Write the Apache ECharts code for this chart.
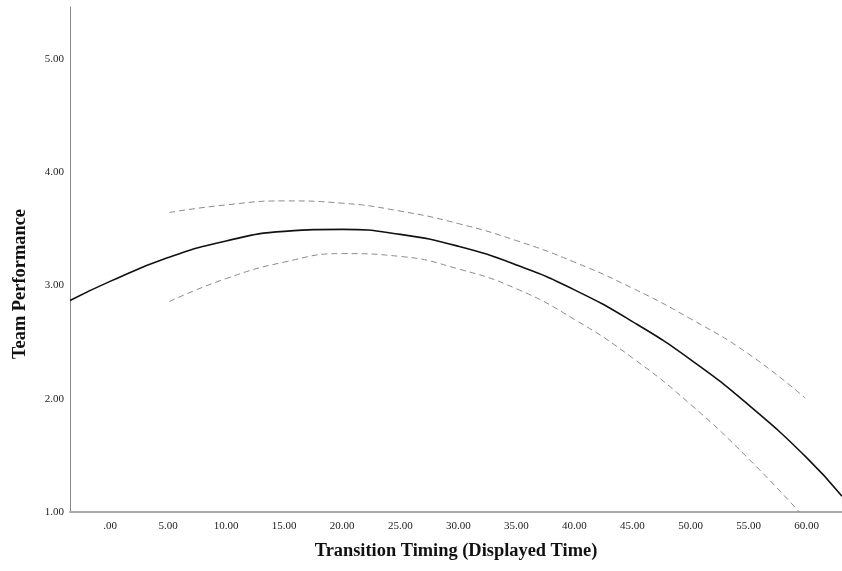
<!DOCTYPE html>
<html>
<head>
<meta charset="utf-8">
<script src="https://cdn.jsdelivr.net/npm/echarts@6/dist/echarts.min.js"></script>
<style>
html,body{margin:0;padding:0;background:#fff;}
#chart{width:842px;height:571px;}
</style>
</head>
<body>
<div id="chart"></div>
<script>
// Fitted line (solid)
var fitX = [-3.45, 0, 5, 10, 15, 20, 25, 30, 35, 40, 45, 50, 55, 60, 63.05];
var fitY = [2.866, 3.035, 3.245, 3.392, 3.476, 3.494, 3.45, 3.345, 3.18, 2.96, 2.68, 2.345, 1.945, 1.48, 1.14];
// Upper confidence band (dashed)
var upperX = [5.1, 10, 15, 20, 25, 30, 35, 40, 45, 50, 55, 59.9];
var upperY = [3.643, 3.71, 3.745, 3.725, 3.655, 3.545, 3.395, 3.205, 2.975, 2.705, 2.395, 2.004];
// Lower confidence band (dashed)
var lowerX = [5.1, 10, 15, 20, 25, 30, 35, 40, 45, 50, 55, 60];
var lowerY = [2.857, 3.06, 3.205, 3.28, 3.255, 3.145, 2.97, 2.70, 2.36, 1.95, 1.47, 0.93];
// Tick values
var xTicks = [0, 5, 10, 15, 20, 25, 30, 35, 40, 45, 50, 55, 60];
var yTicks = [1, 2, 3, 4, 5];

function pairs(xs, ys){ return xs.map(function(x,i){ return [x, ys[i]]; }); }

var chart = echarts.init(document.getElementById('chart'), null, {renderer:'canvas'});
var serif = 'Liberation Serif';
chart.setOption({
  animation: false,
  backgroundColor: '#ffffff',
  grid: {left: 70, right: 0, top: 7, bottom: 59, containLabel: false},
  xAxis: {
    type: 'value', min: -3.45, max: 63.05,
    name: 'Transition Timing (Displayed Time)', nameLocation: 'middle', nameGap: 30,
    nameTextStyle: {fontFamily: serif, fontWeight: 'bold', fontSize: 18.4, color: '#111'},
    axisLine: {show: true, onZero: false, lineStyle: {color: '#aaaaaa', width: 2}},
    axisTick: {show: false}, splitLine: {show: false},
    axisLabel: {
      customValues: xTicks,
      fontFamily: serif, fontSize: 11, color: '#222', margin: 9,
      formatter: function(v){ return v === 0 ? '.00' : Number(v).toFixed(2); }
    }
  },
  yAxis: {
    type: 'value', min: 1, max: 5.456,
    axisLine: {show: true, onZero: false, lineStyle: {color: '#888888', width: 1}},
    axisTick: {show: false}, splitLine: {show: false},
    axisLabel: {
      customValues: yTicks,
      fontFamily: serif, fontSize: 11, color: '#222', margin: 6,
      formatter: function(v){ return Number(v).toFixed(2); }
    }
  },
  graphic: [{
    type: 'text', x: 20, y: 284, rotation: Math.PI/2,
    style: {text: 'Team Performance', font: 'bold 18.4px "Liberation Serif"', fill: '#111', align: 'center', verticalAlign: 'middle'}
  }],
  series: [
    {type: 'line', data: pairs(fitX, fitY), smooth: true, showSymbol: false, clip: true,
     lineStyle: {color: '#111', width: 1.6}},
    {type: 'line', data: pairs(upperX, upperY), smooth: true, showSymbol: false, clip: true,
     lineStyle: {color: '#8a8a8a', width: 1, type: [6, 4]}},
    {type: 'line', data: pairs(lowerX, lowerY), smooth: true, showSymbol: false, clip: true,
     lineStyle: {color: '#8a8a8a', width: 1, type: [6, 4]}}
  ]
});
</script>
</body>
</html>
